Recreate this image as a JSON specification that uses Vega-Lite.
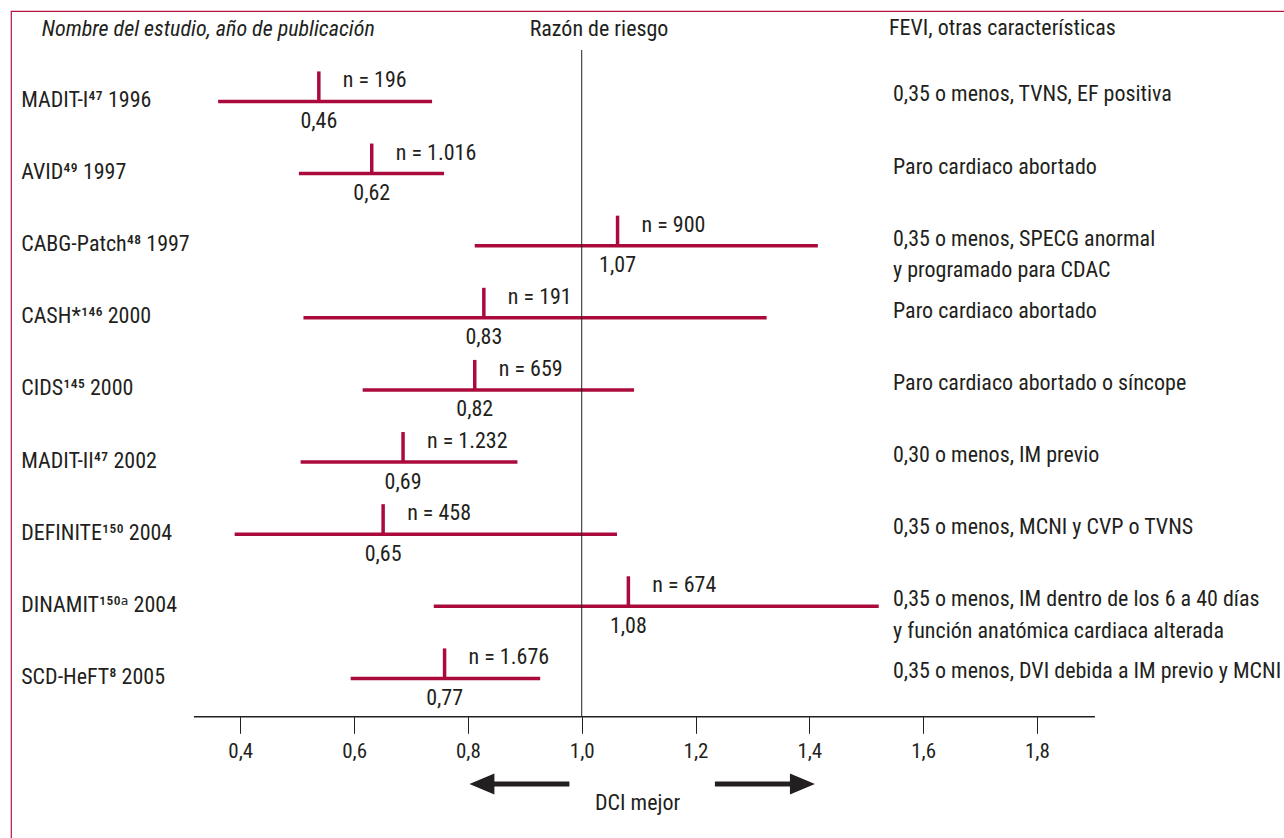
{
  "$schema": "https://vega.github.io/schema/vega-lite/v6.json",
  "autosize": {"type": "none"},
  "padding": {"left": 11, "top": 11, "right": -8, "bottom": -10},
  "width": 1281,
  "height": 837,
  "background": "white",
  "config": {
    "view": {"stroke": "#b4153f", "strokeWidth": 1.2},
    "font": "Liberation Sans Narrow, Roboto Condensed, DejaVu Sans Condensed, sans-serif",
    "text": {"font": "Liberation Sans Narrow, Roboto Condensed, DejaVu Sans Condensed, sans-serif", "fontSize": 22, "color": "#231f20"},
    "axis": {"labelFont": "Liberation Sans Narrow, Roboto Condensed, DejaVu Sans Condensed, sans-serif", "grid": false}
  },
  "data": {
    "values": [
      {"estudio": "MADIT-I⁴⁷ 1996", "lo": 0.361, "hi": 0.737, "punto": 0.538, "rr": "0,46", "n": "n = 196", "car": "0,35 o menos, TVNS, EF positiva"},
      {"estudio": "AVID⁴⁹ 1997", "lo": 0.503, "hi": 0.758, "punto": 0.631, "rr": "0,62", "n": "n = 1.016", "car": "Paro cardiaco abortado"},
      {"estudio": "CABG-Patch⁴⁸ 1997", "lo": 0.812, "hi": 1.415, "punto": 1.063, "rr": "1,07", "n": "n = 900", "car": "0,35 o menos, SPECG anormal\ny programado para CDAC"},
      {"estudio": "CASH*¹⁴⁶ 2000", "lo": 0.511, "hi": 1.325, "punto": 0.828, "rr": "0,83", "n": "n = 191", "car": "Paro cardiaco abortado"},
      {"estudio": "CIDS¹⁴⁵ 2000", "lo": 0.615, "hi": 1.092, "punto": 0.812, "rr": "0,82", "n": "n = 659", "car": "Paro cardiaco abortado o síncope"},
      {"estudio": "MADIT-II⁴⁷ 2002", "lo": 0.506, "hi": 0.887, "punto": 0.686, "rr": "0,69", "n": "n = 1.232", "car": "0,30 o menos, IM previo"},
      {"estudio": "DEFINITE¹⁵⁰ 2004", "lo": 0.390, "hi": 1.062, "punto": 0.651, "rr": "0,65", "n": "n = 458", "car": "0,35 o menos, MCNI y CVP o TVNS"},
      {"estudio": "DINAMIT¹⁵⁰ᵃ 2004", "lo": 0.740, "hi": 1.522, "punto": 1.082, "rr": "1,08", "n": "n = 674", "car": "0,35 o menos, IM dentro de los 6 a 40 días\ny función anatómica cardiaca alterada"},
      {"estudio": "SCD-HeFT⁸ 2005", "lo": 0.594, "hi": 0.927, "punto": 0.759, "rr": "0,77", "n": "n = 1.676", "car": "0,35 o menos, DVI debida a IM previo y MCNI"}
    ]
  },
  "layer": [
    {
      "mark": {"type": "rule", "color": "#ab0b3c", "strokeWidth": 3.5},
      "encoding": {
        "x": {
          "field": "lo", "type": "quantitative",
          "scale": {"domain": [-0.003, 2.2483], "nice": false, "zero": false},
          "axis": {
            "title": null, "orient": "bottom", "offset": -131.3,
            "values": [0.4, 0.6, 0.8, 1.0, 1.2, 1.4, 1.6, 1.8],
            "labelExpr": "replace(format(datum.value, '.1f'), '.', ',')",
            "domain": false, "ticks": true, "tickSize": 16.6, "tickWidth": 1, "tickColor": "#231f20",
            "labelFontSize": 21, "labelColor": "#231f20", "labelPadding": 18.4, "labelBaseline": "middle"
          }
        },
        "x2": {"field": "hi"},
        "y": {
          "field": "estudio", "type": "nominal", "sort": null,
          "scale": {
            "type": "point",
            "domain": ["cab", "MADIT-I⁴⁷ 1996", "AVID⁴⁹ 1997", "CABG-Patch⁴⁸ 1997", "CASH*¹⁴⁶ 2000", "CIDS¹⁴⁵ 2000", "MADIT-II⁴⁷ 2002", "DEFINITE¹⁵⁰ 2004", "DINAMIT¹⁵⁰ᵃ 2004", "SCD-HeFT⁸ 2005"],
            "range": [18.3, 667.4], "padding": 0
          },
          "axis": {
            "title": null, "orient": "left", "domain": false, "ticks": false, "tickSize": 0,
            "labelAlign": "left", "labelPadding": -9.7, "labelLimit": 0, "labelBaseline": "middle",
            "labelFontSize": 22, "labelColor": "#231f20", "labelOffset": -2,
            "labelExpr": "datum.value === 'cab' ? '' : datum.value"
          }
        }
      }
    },
    {
      "mark": {"type": "tick", "color": "#ab0b3c", "thickness": 3.5, "size": 30, "yOffset": -15, "opacity": 1},
      "encoding": {
        "x": {"field": "punto", "type": "quantitative"},
        "y": {"field": "estudio", "type": "nominal", "sort": null}
      }
    },
    {
      "mark": {"type": "text", "align": "left", "baseline": "middle", "dx": 24, "dy": -21},
      "encoding": {
        "x": {"field": "punto", "type": "quantitative"},
        "y": {"field": "estudio", "type": "nominal", "sort": null},
        "text": {"field": "n"}
      }
    },
    {
      "mark": {"type": "text", "align": "center", "baseline": "middle", "dy": 19.5},
      "encoding": {
        "x": {"field": "punto", "type": "quantitative"},
        "y": {"field": "estudio", "type": "nominal", "sort": null},
        "text": {"field": "rr"}
      }
    },
    {
      "mark": {"type": "text", "align": "left", "baseline": "middle", "dy": -7, "lineBreak": "\n", "lineHeight": 31.7},
      "encoding": {
        "x": {"datum": 1.5471},
        "y": {"field": "estudio", "type": "nominal", "sort": null},
        "text": {"field": "car"}
      }
    },
    {
      "data": {"values": [{}]},
      "mark": {"type": "rule", "color": "#231f20", "strokeWidth": 1, "yOffset": 20.7, "y2Offset": 38.3},
      "encoding": {
        "x": {"datum": 1.0},
        "y": {"datum": "cab"},
        "y2": {"datum": "SCD-HeFT⁸ 2005"}
      }
    },
    {
      "data": {"values": [{}]},
      "mark": {"type": "rule", "color": "#231f20", "strokeWidth": 1.5, "yOffset": 38.3},
      "encoding": {
        "x": {"datum": 0.3185},
        "x2": {"datum": 1.902},
        "y": {"datum": "SCD-HeFT⁸ 2005"}
      }
    },
    {
      "data": {"values": [{}]},
      "mark": {"type": "text", "align": "left", "baseline": "middle", "fontStyle": "italic"},
      "encoding": {
        "x": {"datum": 0.051},
        "y": {"datum": "cab"},
        "text": {"value": "Nombre del estudio, año de publicación"}
      }
    },
    {
      "data": {"values": [{}]},
      "mark": {"type": "text", "align": "center", "baseline": "middle"},
      "encoding": {
        "x": {"datum": 1.0304},
        "y": {"datum": "cab"},
        "text": {"value": "Razón de riesgo"}
      }
    },
    {
      "data": {"values": [{}]},
      "mark": {"type": "text", "align": "left", "baseline": "middle", "dy": -1},
      "encoding": {
        "x": {"datum": 1.54},
        "y": {"datum": "cab"},
        "text": {"value": "FEVI, otras características"}
      }
    },
    {
      "data": {"values": [{"sentido": "izquierda", "pos": 0.8905, "forma": "M-1,0L-0.5,-0.21L-0.5,-0.05L1,-0.05L1,0.05L-0.5,0.05L-0.5,0.21Z"}, {"sentido": "derecha", "pos": 1.322, "forma": "M1,0L0.5,-0.21L0.5,-0.05L-1,-0.05L-1,0.05L0.5,0.05L0.5,0.21Z"}]},
      "mark": {"type": "point", "filled": true, "color": "#231f20", "opacity": 1, "size": 10000, "yOffset": 105.6},
      "encoding": {
        "x": {"field": "pos", "type": "quantitative"},
        "y": {"datum": "SCD-HeFT⁸ 2005"},
        "shape": {"field": "forma", "type": "nominal", "scale": null, "legend": null}
      }
    },
    {
      "data": {"values": [{}]},
      "mark": {"type": "text", "align": "center", "baseline": "middle", "dy": 124.6},
      "encoding": {
        "x": {"datum": 1.0982},
        "y": {"datum": "SCD-HeFT⁸ 2005"},
        "text": {"value": "DCI mejor"}
      }
    }
  ]
}
